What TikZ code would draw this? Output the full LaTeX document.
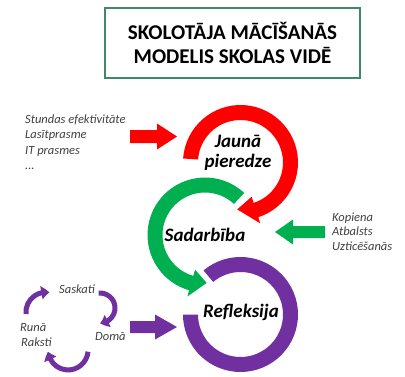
\documentclass[tikz,border=0pt]{standalone}
\usepackage{fontspec}
\setmainfont{Carlito}
\usepackage{xcolor}
\usepackage{tikz}
\usetikzlibrary{arrows.meta,bending}
\definecolor{hot}{HTML}{FF0000}
\definecolor{leaf}{HTML}{00B050}
\definecolor{plum}{HTML}{7030A0}
\definecolor{frame}{HTML}{41886A}
\definecolor{muted}{HTML}{404040}
\tikzset{
  titlebox/.style={draw=frame, line width=2pt, minimum width=255pt, minimum height=70pt,
    align=center, font=\fontsize{21}{24}\selectfont\bfseries},
  big/.style={font=\fontsize{19}{20}\selectfont\bfseries\itshape, align=center, inner sep=0pt},
  lab/.style={text=muted, font=\fontsize{12.5}{15}\selectfont\itshape, inner sep=0pt},
  loop/.style={draw=plum, line width=5pt, -{Triangle[bend,width=13pt,length=8pt]}}
}

\begin{document}
\begin{tikzpicture}[x=1pt,y=1pt]
  \useasboundingbox (0,0) rectangle (405,376);

  \node[titlebox] (title) at (232.5,333) {SKOLOTĀJA MĀCĪŠANĀS\\MODELIS SKOLAS VIDĒ};

  % the three rings
  \coordinate (J) at (240.5,213.5);
  \coordinate (S) at (205,141);
  \coordinate (R) at (240.5,61.5);
  \fill[hot,shift={(J)}] (176:57.5) arc[start angle=176,end angle=-72,radius=57.5]
    -- (-72:64) -- (-94:47) -- (-72:36) -- (-72:42.5)
    arc[start angle=-72,end angle=176,radius=42.5] -- cycle;
  \fill[leaf,shift={(S)}] (47:57.5) arc[start angle=47,end angle=254,radius=57.5]
    -- (254:64) -- (272:48) -- (254:36) -- (254:42.5)
    arc[start angle=254,end angle=47,radius=42.5] -- cycle;
  \fill[plum,shift={(R)}] (130:57.5) arc[start angle=130,end angle=-180,radius=57.5]
    -- (-180:42.5) arc[start angle=-180,end angle=130,radius=42.5] -- cycle;

  \node[big] (jp) at (238,223) {Jaunā\\pieredze};
  \node[big] (sad) at (S) {Sadarbība};
  \node[big] (ref) at (241,64) {Refleksija};

  % block arrows
  \fill[hot] (130,233) -- (157,233) -- (157,226.5) -- (177,239.5) -- (157,252.5)
    -- (157,246) -- (130,246) -- cycle;
  \fill[leaf] (325,138) -- (293,138) -- (293,131.5) -- (275,144) -- (293,156.5)
    -- (293,150) -- (325,150) -- cycle;
  \fill[plum] (130,43) -- (155,43) -- (155,36.5) -- (177,49) -- (155,61.5)
    -- (155,55) -- (130,55) -- cycle;

  % inputs
  \node[lab,anchor=base west] (in1) at (25,253) {Stundas efektivitāte};
  \node[lab,anchor=base west] (in2) at (25,237.5) {Lasītprasme};
  \node[lab,anchor=base west] (in3) at (25,222) {IT prasmes};
  \node[lab,anchor=base west] (in4) at (25,206.5) {...};
  \node[lab,anchor=base west] (kop) at (332,155) {Kopiena};
  \node[lab,anchor=base west] (atb) at (332,140.5) {Atbalsts};
  \node[lab,anchor=base west] (uzt) at (332,126) {Uzticēšanās};

  % small cycle
  \node[lab,anchor=base] (sas) at (77,83) {Saskati};
  \node[lab,anchor=base west] (run) at (20,45) {Runā};
  \node[lab,anchor=base west] (rak) at (21,30) {Raksti};
  \node[lab,anchor=base west] (dom) at (95,36) {Domā};
  \coordinate (t1) at (26,62);
  \coordinate (t2) at (98.7,82.9);
  \coordinate (t3) at (88,24.3);
  \draw[loop] (t1) arc[start angle=185,end angle=80,radius=20];
  \draw[loop] (t2) arc[start angle=95,end angle=-90,radius=15];
  \draw[loop] (t3) arc[start angle=-5,end angle=-175,radius=20];
\end{tikzpicture}
\end{document}
